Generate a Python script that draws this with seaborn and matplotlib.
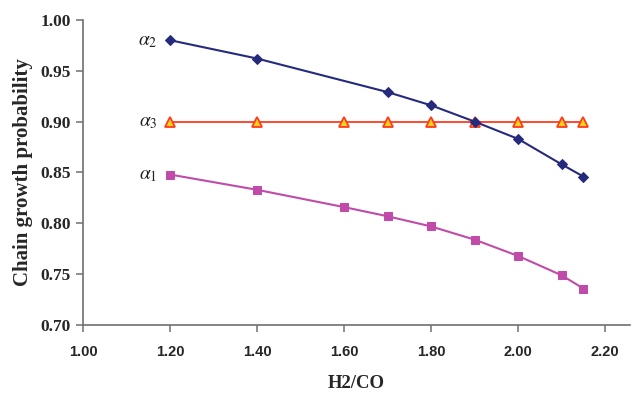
import matplotlib
matplotlib.use("Agg")
import matplotlib.pyplot as plt
import seaborn as sns
import pandas as pd

# data
x_a2 = [1.20, 1.40, 1.70, 1.80, 1.90, 2.00, 2.10, 2.15]
alpha2 = [0.980, 0.962, 0.929, 0.916, 0.900, 0.883, 0.858, 0.846]
x_a3 = [1.20, 1.40, 1.60, 1.70, 1.80, 1.90, 2.00, 2.10, 2.15]
alpha3 = [0.90, 0.90, 0.90, 0.90, 0.90, 0.90, 0.90, 0.90, 0.90]
x_a1 = [1.20, 1.40, 1.60, 1.70, 1.80, 1.90, 2.00, 2.10, 2.15]
alpha1 = [0.848, 0.833, 0.816, 0.807, 0.797, 0.784, 0.768, 0.749, 0.736]
x_ticks = [1.00, 1.20, 1.40, 1.60, 1.80, 2.00, 2.20]
y_ticks = [0.70, 0.75, 0.80, 0.85, 0.90, 0.95, 1.00]

sns.set_style("white")
plt.rcParams["mathtext.fontset"] = "stix"

fig = plt.figure(figsize=(6.36, 3.97), dpi=100)
ax = fig.add_axes([0.1305, 0.181, 0.86, 0.769])

d2 = pd.DataFrame({"x": x_a2, "y": alpha2})
d3 = pd.DataFrame({"x": x_a3, "y": alpha3})
d1 = pd.DataFrame({"x": x_a1, "y": alpha1})

sns.lineplot(data=d3, x="x", y="y", ax=ax, color="#FF3B1F", lw=1.3,
             marker="^", markersize=6.5, markerfacecolor="#FFD21A",
             markeredgecolor="#FF3B1F", markeredgewidth=1.3, zorder=2)
sns.lineplot(data=d2, x="x", y="y", ax=ax, color="#262A7C", lw=1.5,
             marker="D", markersize=5.5, markerfacecolor="#262A7C",
             markeredgecolor="#262A7C", zorder=3)
sns.lineplot(data=d1, x="x", y="y", ax=ax, color="#C04BA8", lw=1.5,
             marker="s", markersize=6, markerfacecolor="#C04BA8",
             markeredgecolor="#C04BA8", zorder=3)

for lab, xs, ys in [(r"$\alpha_2$", x_a2, alpha2),
                    (r"$\alpha_3$", x_a3, alpha3),
                    (r"$\alpha_1$", x_a1, alpha1)]:
    ax.annotate(lab, (xs[0], ys[0]), xytext=(-9, 0), textcoords="offset points",
                ha="right", va="center", fontsize=14, color="#222222")

ax.set_xlim(1.0, 2.257)
ax.set_ylim(0.70, 1.00)
ax.set_xticks(x_ticks)
ax.set_yticks(y_ticks)
ax.set_xticklabels([f"{v:.2f}" for v in x_ticks], fontfamily="Liberation Sans",
                   fontweight="bold", fontsize=10.5)
ax.set_yticklabels([f"{v:.2f}" for v in y_ticks], fontfamily="Liberation Serif",
                   fontweight="bold", fontsize=12.5)
ax.set_xlabel("H2/CO", fontfamily="Liberation Serif", fontweight="bold",
              fontsize=13.5, labelpad=12)
ax.set_ylabel("Chain growth probability", fontfamily="Liberation Serif",
              fontweight="bold", fontsize=15, labelpad=5)

for s in ["top", "right"]:
    ax.spines[s].set_visible(False)
for s in ["left", "bottom"]:
    ax.spines[s].set_color("#707070")
    ax.spines[s].set_linewidth(1.2)
ax.tick_params(axis="both", which="major", direction="out", length=5,
               width=1.1, color="#707070", bottom=True, left=True, pad=4)
ax.tick_params(axis="x", pad=9)

fig.savefig("out.png", dpi=100)
